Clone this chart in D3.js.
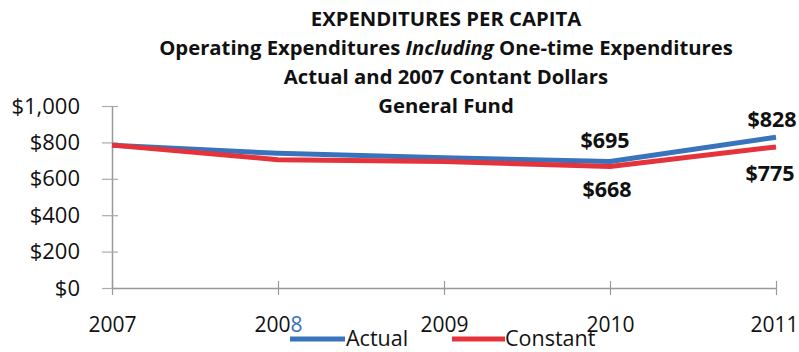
<!DOCTYPE html>
<html>
<head>
<meta charset="utf-8">
<script src="https://cdn.jsdelivr.net/npm/d3@7"></script>
<style>
  body { margin: 0; background: #fff; }
  text { font-family: "Open Sans", "Noto Sans", sans-serif; }
</style>
</head>
<body>
<svg id="chart"></svg>
<script>
const width = 799, height = 352;

// Data
const years = [2007, 2008, 2009, 2010, 2011];
const actual = [785, 740, 715, 695, 828];
const constant = [785, 705, 695, 668, 775];
const yTicks = [0, 200, 400, 600, 800, 1000];
const titleLines = [
  ["EXPENDITURES PER CAPITA"],
  ["Operating Expenditures ", "Including", " One-time Expenditures"],
  ["Actual and 2007 Contant Dollars"],
  ["General Fund"]
];
const seriesNames = ["Actual", "Constant"];
const seriesColors = ["#3873bb", "#e5333b"];

const svg = d3.select("#chart").attr("width", width).attr("height", height);

const x = d3.scalePoint().domain(years).range([112, 776]);
const y = d3.scaleLinear().domain([0, 1000]).range([288, 106]);

// Title
const titleY = [26, 55, 84, 113];
titleLines.forEach((parts, i) => {
  const t = svg.append("text")
    .attr("x", 446).attr("y", titleY[i])
    .attr("text-anchor", "middle")
    .attr("font-size", 20.3).attr("font-weight", "bold").attr("fill", "#111");
  parts.forEach((p, j) => {
    t.append("tspan").text(p).attr("font-style", j === 1 ? "italic" : null);
  });
});

// Y axis
const yAxis = svg.append("g").attr("transform", "translate(112,0)")
  .call(d3.axisLeft(y).tickValues(yTicks).tickSize(0)
    .tickFormat(d => "$" + d3.format(",")(d)));
yAxis.select(".domain").attr("stroke", "#999").attr("stroke-width", 1.5);
yAxis.selectAll("text").attr("x", -32).attr("font-size", 22).attr("fill", "#111");
yAxis.selectAll(".tick").append("line")
  .attr("x1", -10).attr("x2", 6).attr("stroke", "#aaa").attr("stroke-width", 1.2);

// X axis
const xAxis = svg.append("g").attr("transform", "translate(0,288)")
  .call(d3.axisBottom(x).tickSize(0).tickFormat(""));
xAxis.select(".domain").attr("stroke", "#999").attr("stroke-width", 1.5);
xAxis.selectAll(".tick").append("line")
  .attr("y1", -7).attr("y2", 7).attr("stroke", "#999").attr("stroke-width", 1.2);
xAxis.selectAll(".tick").append("text")
  .attr("y", 44).attr("text-anchor", "middle")
  .attr("dx", d => d === 2011 ? -2 : 0)
  .attr("font-size", 21).attr("fill", "#111")
  .each(function(d) {
    const s = String(d);
    const t = d3.select(this);
    if (d === 2008) {
      t.append("tspan").text(s.slice(0, 3));
      t.append("tspan").text(s.slice(3)).attr("fill", "#3873bb");
    } else {
      t.text(s);
    }
  });

// Lines
const line = d3.line().x((d, i) => x(years[i])).y(d => y(d));
[actual, constant].forEach((vals, k) => {
  svg.append("path")
    .attr("d", line(vals))
    .attr("fill", "none")
    .attr("stroke", seriesColors[k])
    .attr("stroke-width", 5)
    .attr("stroke-linejoin", "round");
});

// Data labels
const labels = [
  { series: actual, i: 3, dx: -5, dy: -14 },
  { series: constant, i: 3, dx: -3, dy: 31 },
  { series: actual, i: 4, dx: -4, dy: -10 },
  { series: constant, i: 4, dx: -6, dy: 34 }
];
labels.forEach(l => {
  const val = l.series[l.i];
  svg.append("text")
    .attr("x", x(years[l.i]) + l.dx)
    .attr("y", y(val) + l.dy)
    .attr("text-anchor", "middle")
    .attr("font-size", 21.5).attr("font-weight", "bold").attr("fill", "#111")
    .text("$" + val);
});

// Legend
const legendItems = [
  { x1: 290, x2: 345, tx: 346 },
  { x1: 452, x2: 505, tx: 505 }
];
legendItems.forEach((it, k) => {
  svg.append("line")
    .attr("x1", it.x1).attr("x2", it.x2).attr("y1", 339).attr("y2", 339)
    .attr("stroke", seriesColors[k]).attr("stroke-width", 5);
  svg.append("text")
    .attr("x", it.tx).attr("y", 346)
    .attr("font-size", 21.5).attr("fill", "#111")
    .text(seriesNames[k]);
});
</script>
</body>
</html>
